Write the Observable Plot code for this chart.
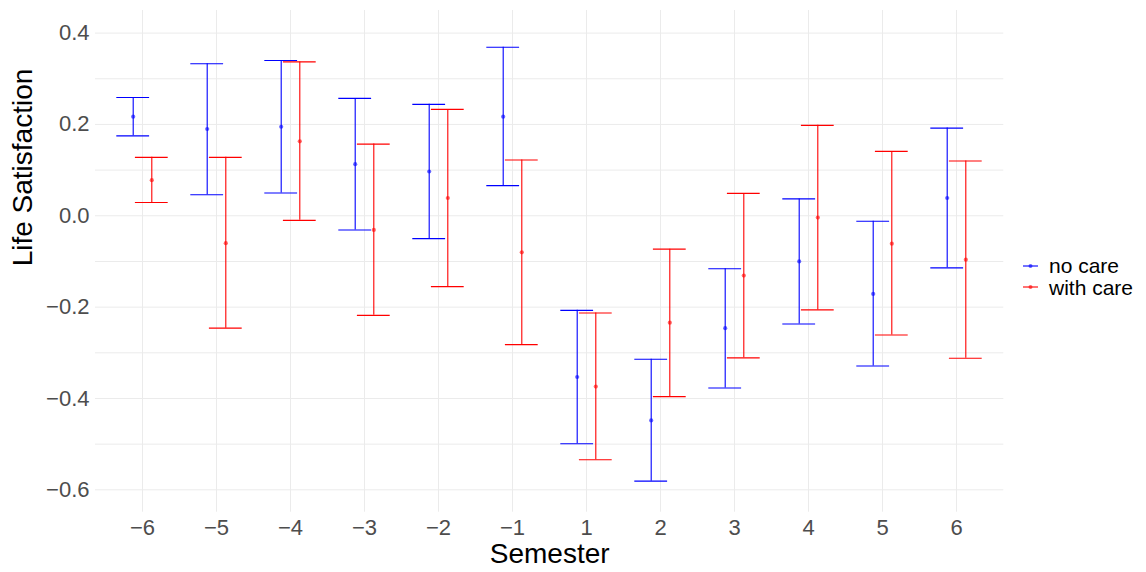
<!DOCTYPE html>
<html>
<head>
<meta charset="utf-8">
<script src="https://cdn.jsdelivr.net/npm/d3@7"></script>
<script src="https://cdn.jsdelivr.net/npm/@observablehq/plot@0.6"></script>
<style>
  html, body { margin: 0; padding: 0; background: #fff; }
  #wrap { position: relative; width: 1146px; height: 572px; font-family: "Liberation Sans", Arial, Helvetica, sans-serif; }
  #legend { position: absolute; left: 1022px; top: 255px; font-size: 21px; color: #000; line-height: 21.6px; }
  .item { display: flex; align-items: center; height: 21.6px; }
  .item svg { margin-right: 10px; }
</style>
</head>
<body>
<div id="wrap"></div>
<script>
const semesters = ["-6","-5","-4","-3","-2","-1","1","2","3","4","5","6"];
const groups = ["no care", "with care"];
const groupColors = ["#0000ff", "#ff0000"];

const noCareMean = [0.217, 0.190, 0.195, 0.113, 0.097, 0.217, -0.353, -0.448, -0.246, -0.100, -0.171, 0.039];
const noCareLow  = [0.175, 0.046, 0.050, -0.031, -0.050, 0.066, -0.499, -0.581, -0.377, -0.237, -0.329, -0.114];
const noCareHigh = [0.259, 0.333, 0.340, 0.257, 0.244, 0.369, -0.207, -0.314, -0.116, 0.037, -0.012, 0.192];

const withCareMean = [0.078, -0.060, 0.163, -0.031, 0.039, -0.080, -0.374, -0.234, -0.131, -0.004, -0.061, -0.096];
const withCareLow  = [0.029, -0.246, -0.010, -0.218, -0.155, -0.282, -0.534, -0.396, -0.311, -0.206, -0.261, -0.312];
const withCareHigh = [0.128, 0.128, 0.337, 0.157, 0.233, 0.122, -0.213, -0.073, 0.049, 0.198, 0.141, 0.120];

const yTicks = [-0.6, -0.4, -0.2, 0.0, 0.2, 0.4];
const yMinor = [-0.5, -0.3, -0.1, 0.1, 0.3];

const noCare = semesters.map((s, i) => ({semester: s, mean: noCareMean[i], low: noCareLow[i], high: noCareHigh[i]}));
const withCare = semesters.map((s, i) => ({semester: s, mean: withCareMean[i], low: withCareLow[i], high: withCareHigh[i]}));

const minus = s => String(s).replace("-", "\u2212");
const dodge = 9.3;
const capInset = 20.6;

function series(data, color, dx) {
  return [
    Plot.ruleX(data, {x: "semester", y1: "low", y2: "high", stroke: color, strokeWidth: 1.1, dx}),
    Plot.tickY(data, {x: "semester", y: "high", stroke: color, strokeWidth: 1.1, dx, insetLeft: capInset, insetRight: capInset}),
    Plot.tickY(data, {x: "semester", y: "low", stroke: color, strokeWidth: 1.1, dx, insetLeft: capInset, insetRight: capInset}),
    Plot.dot(data, {x: "semester", y: "mean", r: 2.1, fill: color, fillOpacity: 0.6, stroke: "none", dx})
  ];
}

const chart = Plot.plot({
  width: 1146,
  height: 572,
  marginLeft: 95,
  marginRight: 142.7,
  marginTop: 10,
  marginBottom: 60.3,
  style: {fontFamily: '"Liberation Sans", Arial, Helvetica, sans-serif', background: "#fff"},
  x: {type: "band", domain: semesters, paddingInner: 0, paddingOuter: 0.1},
  y: {domain: [-0.649, 0.4495]},
  marks: [
    Plot.ruleY(yMinor, {stroke: "#ebebeb", strokeWidth: 1}),
    Plot.ruleY(yTicks, {stroke: "#ebebeb", strokeWidth: 1}),
    Plot.gridX({stroke: "#ebebeb", strokeOpacity: 1, strokeWidth: 1}),
    Plot.axisX({tickSize: 0, tickPadding: 7, fontSize: 22, color: "#4d4d4d", tickFormat: minus, label: null}),
    Plot.axisY(yTicks, {tickSize: 0, tickPadding: 6, fontSize: 22, color: "#4d4d4d",
      tickFormat: d => minus(d.toFixed(1)), label: null}),
    ...series(noCare, groupColors[0], -dodge),
    ...series(withCare, groupColors[1], dodge),
    Plot.text([0], {frameAnchor: "bottom", text: () => "Semester", fontSize: 28, fill: "#000",
      lineAnchor: "top", dy: 31.4}),
    Plot.text([0], {frameAnchor: "left", text: () => "Life Satisfaction", fontSize: 28, fill: "#000",
      rotate: -90, lineAnchor: "top", dx: -83, dy: 5})
  ]
});

const wrap = document.getElementById("wrap");
wrap.appendChild(chart);

const legend = document.createElement("div");
legend.id = "legend";
groups.forEach((g, i) => {
  const item = document.createElement("div");
  item.className = "item";
  item.innerHTML = `<svg width="17" height="10"><line x1="1" x2="16" y1="5" y2="5" stroke="${groupColors[i]}" stroke-width="1.1"/><circle cx="8.5" cy="5" r="2" fill="${groupColors[i]}" fill-opacity="0.6"/></svg><span>${g}</span>`;
  legend.appendChild(item);
});
wrap.appendChild(legend);
</script>
</body>
</html>
